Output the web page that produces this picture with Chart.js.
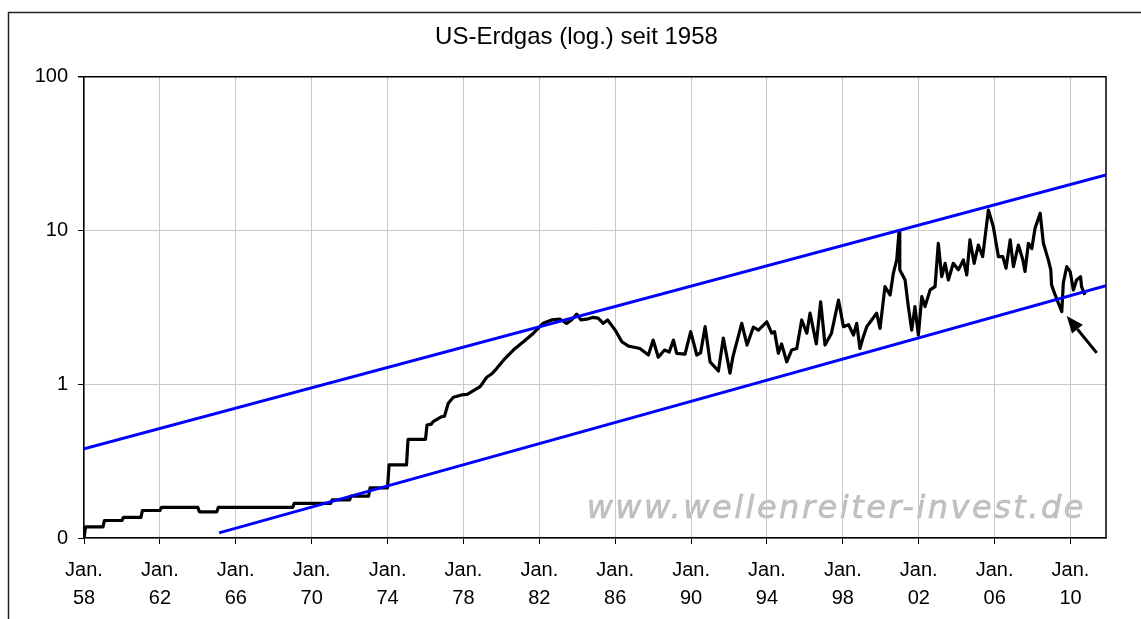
<!DOCTYPE html>
<html>
<head>
<meta charset="utf-8">
<script src="https://cdn.jsdelivr.net/npm/chart.js@4"></script>
<style>
    html, body { margin: 0; padding: 0; background: #fff; }
    canvas { display: block; }
</style>
</head>
<body>
<canvas id="chart" width="1141" height="619"></canvas>
<script>
// yearly prices 1958-1975 (flat within each year)
const stepYears = [1958, 1959, 1960, 1961, 1962, 1963, 1964, 1965, 1966, 1967, 1968, 1969, 1970, 1971, 1972, 1973, 1974, 1975];
const stepPrices = [0.118, 0.130, 0.136, 0.151, 0.158, 0.158, 0.148, 0.158, 0.158, 0.158, 0.158, 0.168, 0.168, 0.177, 0.187, 0.212, 0.299, 0.438];
const startPrice = 0.1;

// monthly-ish readings from 1976 on
const dates = [
    1976.08, 1976.3, 1976.4, 1976.85, 1977.0, 1977.2, 1977.47, 1977.9, 1978.2, 1978.44,
    1978.88, 1979.23, 1979.5, 1979.76, 1980.2, 1980.63, 1981.16, 1981.69, 1982.2, 1982.65,
    1983.09, 1983.3, 1983.44, 1983.7, 1983.97, 1984.2, 1984.5, 1984.8, 1985.1, 1985.37,
    1985.6, 1986.0, 1986.35, 1986.7, 1987.0, 1987.3, 1987.75, 1988.0, 1988.27, 1988.6,
    1988.85, 1989.07, 1989.24, 1989.68, 1989.98, 1990.3, 1990.5, 1990.74, 1991.0, 1991.44,
    1991.7, 1992.05, 1992.2, 1992.67, 1992.95, 1993.28, 1993.55, 1993.99, 1994.25, 1994.4,
    1994.6, 1994.77, 1995.04, 1995.3, 1995.57, 1995.83, 1996.1, 1996.27, 1996.6, 1996.83,
    1997.06, 1997.4, 1997.77, 1998.03, 1998.3, 1998.56, 1998.73, 1998.9, 1999.08, 1999.26,
    1999.52, 1999.78, 1999.96, 2000.22, 2000.49, 2000.66, 2000.84, 2000.96, 2001.0, 2001.28,
    2001.45, 2001.63, 2001.8, 2001.98, 2002.16, 2002.33, 2002.6, 2002.86, 2003.03, 2003.21,
    2003.39, 2003.56, 2003.82, 2004.09, 2004.35, 2004.53, 2004.7, 2004.92, 2005.14, 2005.37,
    2005.67, 2005.93, 2006.2, 2006.43, 2006.6, 2006.82, 2006.99, 2007.25, 2007.49, 2007.6,
    2007.78, 2007.96, 2008.13, 2008.4, 2008.57, 2008.83, 2008.96, 2009.0, 2009.19, 2009.36,
    2009.54, 2009.62, 2009.8, 2009.98, 2010.15, 2010.32, 2010.53, 2010.58, 2010.76
];
const prices = [
    0.543, 0.55, 0.571, 0.615, 0.62, 0.752, 0.823, 0.852, 0.86, 0.895,
    0.965, 1.11, 1.17, 1.27, 1.476, 1.67, 1.89, 2.15, 2.49, 2.62,
    2.65, 2.55, 2.49, 2.62, 2.86, 2.62, 2.65, 2.72, 2.69, 2.49,
    2.62, 2.25, 1.89, 1.77, 1.74, 1.71, 1.55, 1.94, 1.50, 1.67,
    1.62, 1.94, 1.59, 1.57, 2.20, 1.55, 1.6, 2.37, 1.40, 1.22,
    2.0, 1.18, 1.5, 2.49, 1.8, 2.35, 2.25, 2.55, 2.15, 2.2,
    1.59, 1.83, 1.40, 1.67, 1.71, 2.62, 2.15, 2.90, 1.83, 3.44,
    1.80, 2.15, 3.53, 2.37, 2.44, 2.09, 2.49, 1.71, 2.04, 2.37,
    2.62, 2.90, 2.31, 4.32, 3.81, 5.27, 6.44, 9.84, 5.55, 4.77,
    3.20, 2.25, 3.20, 2.09, 3.72, 3.20, 4.11, 4.32, 8.26, 5.01,
    6.12, 4.77, 6.12, 5.55, 6.44, 5.14, 8.69, 6.12, 8.05, 6.76,
    13.6, 10.6, 6.76, 6.76, 5.69, 8.69, 5.83, 8.05, 6.44, 5.41,
    8.26, 7.63, 10.35, 12.96, 8.26, 6.44, 5.55, 4.43, 3.81, 3.37,
    2.97, 4.56, 5.83, 5.41, 4.11, 4.77, 5.01, 4.32, 3.81
];

// trend channel (start / end)
const upperLine = [[1958, 0.38], [2011.87, 23]];
const lowerLine = [[1965.12, 0.108], [2011.87, 4.37]];
const arrowFrom = [2011.38, 1.6];
const arrowTo = [2009.8, 2.78];

const xTickYears = [1958, 1962, 1966, 1970, 1974, 1978, 1982, 1986, 1990, 1994, 1998, 2002, 2006, 2010];
const xTickLabels = ['58', '62', '66', '70', '74', '78', '82', '86', '90', '94', '98', '02', '06', '10'];
const yTickValues = [0.1, 1, 10, 100];
const yTickLabels = ['0', '1', '10', '100'];

const gasPoints = [{ x: 1958, y: startPrice }];
stepYears.forEach((yr, i) => {
    gasPoints.push({ x: yr + 0.08, y: stepPrices[i] });
    gasPoints.push({ x: yr + 1, y: stepPrices[i] });
});
dates.forEach((d, i) => gasPoints.push({ x: d, y: prices[i] }));

const toPoints = arr => arr.map(p => ({ x: p[0], y: p[1] }));

const frameAndExtras = {
    id: 'frameAndExtras',
    beforeDraw(chart) {
        const ctx = chart.ctx;
        const area = chart.chartArea;
        ctx.save();
        // outer frame (top + left)
        ctx.strokeStyle = '#222';
        ctx.lineWidth = 1.5;
        ctx.beginPath();
        ctx.moveTo(8.5, chart.height);
        ctx.lineTo(8.5, 12.5);
        ctx.lineTo(chart.width, 12.5);
        ctx.stroke();
        // watermark
        ctx.font = 'italic 32px "DejaVu Sans"';
        ctx.letterSpacing = '2.5px';
        ctx.fillStyle = '#c4c4c4';
        ctx.strokeStyle = 'rgba(120,120,120,0.25)';
        ctx.lineWidth = 1;
        ctx.textAlign = 'right';
        ctx.textBaseline = 'alphabetic';
        ctx.fillText('www.wellenreiter-invest.de', area.right - 20, area.bottom - 20);
        ctx.strokeText('www.wellenreiter-invest.de', area.right - 20, area.bottom - 20);
        ctx.restore();
    },
    afterDraw(chart) {
        const ctx = chart.ctx;
        const area = chart.chartArea;
        const xs = chart.scales.x;
        const ys = chart.scales.y;
        ctx.save();
        // plot border top / right
        ctx.strokeStyle = '#000';
        ctx.lineWidth = 1.5;
        ctx.beginPath();
        ctx.moveTo(area.left - 6, area.top);
        ctx.lineTo(area.right, area.top);
        ctx.lineTo(area.right, area.bottom);
        ctx.stroke();
        // arrow
        const x1 = xs.getPixelForValue(arrowFrom[0]);
        const y1 = ys.getPixelForValue(arrowFrom[1]);
        const x2 = xs.getPixelForValue(arrowTo[0]);
        const y2 = ys.getPixelForValue(arrowTo[1]);
        const ang = Math.atan2(y2 - y1, x2 - x1);
        const headLen = 17, headW = 7;
        const bx = x2 - headLen * Math.cos(ang);
        const by = y2 - headLen * Math.sin(ang);
        ctx.lineWidth = 3;
        ctx.beginPath();
        ctx.moveTo(x1, y1);
        ctx.lineTo(bx, by);
        ctx.stroke();
        ctx.fillStyle = '#000';
        ctx.beginPath();
        ctx.moveTo(x2, y2);
        ctx.lineTo(bx + headW * Math.sin(ang), by - headW * Math.cos(ang));
        ctx.lineTo(bx - headW * Math.sin(ang), by + headW * Math.cos(ang));
        ctx.closePath();
        ctx.fill();
        ctx.restore();
    }
};

Chart.defaults.font.family = '"Liberation Sans", Arial, sans-serif';
Chart.defaults.color = '#000';

new Chart(document.getElementById('chart'), {
    type: 'line',
    data: {
        datasets: [
            {
                data: toPoints(upperLine),
                borderColor: '#0000ff',
                borderWidth: 3,
                pointRadius: 0,
                order: 1
            },
            {
                data: toPoints(lowerLine),
                borderColor: '#0000ff',
                borderWidth: 3,
                pointRadius: 0,
                order: 1
            },
            {
                data: gasPoints,
                borderColor: '#000',
                borderWidth: 3.2,
                pointRadius: 0,
                borderJoinStyle: 'round',
                order: 2
            }
        ]
    },
    options: {
        responsive: false,
        animation: false,
        devicePixelRatio: 1,
        layout: { padding: { left: 12, right: 0, top: 0, bottom: 0 } },
        plugins: {
            legend: { display: false },
            tooltip: { enabled: false },
            title: {
                display: true,
                text: 'US-Erdgas (log.) seit 1958',
                font: { size: 24, weight: 'normal' },
                color: '#000',
                padding: { top: 23, bottom: 25 }
            }
        },
        scales: {
            x: {
                type: 'linear',
                min: 1958,
                max: 2011.87,
                afterBuildTicks: axis => { axis.ticks = xTickYears.map(v => ({ value: v })); },
                afterFit: axis => { axis.height = 81; },
                ticks: {
                    autoSkip: false,
                    maxRotation: 0,
                    padding: 12,
                    font: { size: 20, lineHeight: 1.4 },
                    callback: v => ['Jan.', xTickLabels[xTickYears.indexOf(v)]]
                },
                grid: { color: '#c8c8c8', tickColor: '#000', tickLength: 6, lineWidth: 1 },
                border: { color: '#000', width: 1.5 }
            },
            y: {
                type: 'logarithmic',
                min: 0.1,
                max: 100,
                afterBuildTicks: axis => { axis.ticks = yTickValues.map(v => ({ value: v })); },
                afterFit: axis => { axis.width = 72; },
                ticks: {
                    padding: 10,
                    font: { size: 20 },
                    callback: v => yTickLabels[yTickValues.indexOf(v)]
                },
                grid: { color: '#c8c8c8', tickColor: '#000', tickLength: 6, lineWidth: 1 },
                border: { color: '#000', width: 1.5 }
            },
            // empty right-hand gutter so the title centres over the whole frame
            gutter: {
                type: 'linear',
                position: 'right',
                afterFit: axis => { axis.width = 35; },
                ticks: { display: false },
                grid: { display: false, drawOnChartArea: false },
                border: { display: false }
            }
        }
    },
    plugins: [frameAndExtras]
});
</script>
</body>
</html>
